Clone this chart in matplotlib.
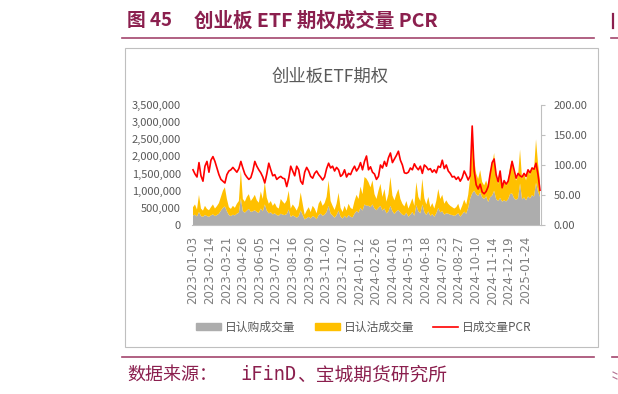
import numpy as np
import matplotlib
matplotlib.use('Agg')
from matplotlib import pyplot as plt
from matplotlib.patches import Patch, Rectangle
from matplotlib.lines import Line2D
from matplotlib.ticker import FuncFormatter

plt.rcParams['font.family'] = ['Noto Sans CJK SC', 'DejaVu Sans']
plt.rcParams['axes.unicode_minus'] = False

# one point every 3 trading days, 2023-01-03 .. 2025-02
call_vol = [280, 300, 250, 380, 260, 240, 290, 260, 240, 280, 310, 260, 290, 330, 420, 500, 540, 400, 290, 260, 300, 280,
            330, 360, 780, 400, 360, 420, 470, 380, 400, 430, 380, 350, 480, 400, 600, 420, 340, 370, 310, 340, 290, 270,
            330, 300, 290, 320, 450, 230, 280, 250, 210, 260, 430, 290, 160, 200, 240, 190, 260, 230, 170, 290, 330, 270,
            300, 380, 560, 330, 280, 210, 290, 420, 240, 190, 270, 200, 290, 240, 220, 330, 410, 360, 500, 420, 600, 560,
            560, 520, 600, 480, 430, 500, 560, 420, 480, 340, 400, 560, 400, 320, 400, 440, 360, 300, 280, 360, 240, 300,
            380, 270, 580, 400, 340, 600, 380, 290, 400, 260, 320, 240, 340, 500, 370, 400, 300, 340, 330, 300, 290, 265,
            295, 345, 243, 313, 390, 328, 503, 770, 925, 1000, 900, 845, 950, 805, 755, 835, 670, 810, 860, 1000, 760,
            700, 790, 680, 720, 685, 750, 905, 920, 780, 730, 780, 1210, 750, 805, 720, 835, 775, 870, 830, 1230, 980, 820]
put_vol = [240, 300, 200, 500, 220, 180, 270, 210, 190, 240, 290, 220, 260, 310, 400, 500, 560, 360, 230, 210, 260, 220,
           290, 340, 820, 360, 320, 400, 430, 320, 380, 450, 340, 300, 500, 360, 650, 380, 280, 330, 250, 300, 230, 210,
           430, 380, 330, 400, 550, 250, 320, 270, 210, 300, 520, 330, 140, 220, 280, 190, 300, 250, 170, 330, 390, 290,
           340, 440, 740, 370, 280, 230, 330, 520, 260, 190, 290, 220, 330, 260, 240, 370, 470, 400, 620, 480, 800, 790,
           690, 580, 700, 420, 330, 500, 640, 400, 570, 340, 500, 840, 460, 400, 500, 610, 400, 320, 260, 340, 240, 320,
           400, 290, 670, 420, 360, 750, 400, 310, 420, 260, 320, 240, 360, 550, 390, 480, 320, 380, 290, 260, 230, 215,
           225, 275, 180, 250, 350, 270, 380, 630, 1520, 900, 600, 500, 650, 450, 400, 465, 430, 690, 890, 1100, 640,
           500, 710, 420, 530, 465, 550, 800, 980, 720, 570, 670, 990, 600, 700, 580, 770, 680, 830, 770, 1270, 820, 480]
pcr = [92, 85, 80, 104, 82, 73, 98, 106, 88, 108, 114, 106, 95, 84, 76, 73, 70, 84, 90, 92, 96, 92, 88, 94, 106, 95,
       85, 80, 76, 79, 90, 106, 98, 92, 87, 80, 70, 85, 103, 92, 82, 84, 76, 79,
       81, 78, 77, 64, 78, 98, 90, 82, 98, 92, 73, 68, 88, 96, 90, 81, 78, 86, 90, 84, 80, 75, 80, 94, 103, 95,
       98, 90, 96, 92, 81, 84, 92, 80, 86, 84, 92, 98, 90, 95, 104, 92, 106, 115,
       92, 97, 88, 85, 76, 81, 100, 95, 106, 98, 112, 120, 104, 110, 116, 123, 108, 100, 87, 86, 88, 95, 92, 102,
       96, 92, 98, 86, 100, 97, 92, 94, 88, 92, 87, 98, 96, 108, 94, 100, 90, 86, 80, 81,
       76, 80, 73, 79, 90, 83, 75, 82, 165, 90, 67, 60, 68, 55, 52, 56, 64, 85, 104, 110, 84, 72, 90, 62, 74, 68,
       73, 88, 106, 92, 78, 86, 82, 80, 86, 81, 92, 87, 95, 93, 103, 84, 58]

tick_dates = ['2023-01-03', '2023-02-14', '2023-03-21', '2023-04-26', '2023-06-05', '2023-07-12', '2023-08-16',
              '2023-09-20', '2023-11-02', '2023-12-07', '2024-01-12', '2024-02-26', '2024-04-01', '2024-05-13',
              '2024-06-18', '2024-07-23', '2024-08-27', '2024-10-10', '2024-11-14', '2024-12-19', '2025-01-24']
legend_labels = ['日认购成交量', '日认沽成交量', '日成交量PCR']

call_vol = np.array(call_vol) * 1000
put_vol = np.array(put_vol) * 1000
x = np.arange(len(call_vol))

W, H = 618, 394
def fx(px):
    return px / W
def fy(py):
    return 1 - py / H

title_c = '#8B1F4E'
rule_c = '#A3456D'

fig = plt.figure(figsize=(W / 100, H / 100), dpi=100)

# page furniture
fig.text(fx(127), fy(21), '图 45', fontsize=13.5, weight='bold', color=title_c, va='center')
fig.text(fx(194), fy(21), '创业板 ETF 期权成交量 PCR', fontsize=14, weight='bold', color=title_c, va='center')
fig.add_artist(Line2D([fx(122), fx(594)], [fy(38), fy(38)], color=rule_c, lw=1.2))
fig.add_artist(Line2D([fx(611), fx(618)], [fy(38), fy(38)], color=rule_c, lw=1.2))
# edge of the neighbouring panel's heading
fig.add_artist(Line2D([fx(612.5), fx(612.5)], [fy(14), fy(28)], color=title_c, lw=1.6))
fig.add_artist(Rectangle((fx(125), fy(347)), fx(598) - fx(125), fy(48) - fy(347), fill=False,
                         edgecolor='#BFBFBF', lw=0.8, transform=fig.transFigure))
fig.add_artist(Line2D([fx(122), fx(594)], [fy(357), fy(357)], color=rule_c, lw=1.2))
fig.add_artist(Line2D([fx(612), fx(618)], [fy(357), fy(357)], color=rule_c, lw=1.2))
fig.add_artist(Line2D([fx(613), fx(617)], [fy(372), fy(374)], color='#B07090', lw=0.8))
fig.add_artist(Line2D([fx(613), fx(617)], [fy(377), fy(379)], color='#B07090', lw=0.8))
fig.text(fx(127), fy(375), '数据来源：', fontsize=13, color=title_c, va='center')
fig.text(fx(240), fy(375), 'iFinD', fontsize=13.5, color=title_c, va='center', family='DejaVu Sans Mono')
fig.text(fx(297), fy(375), '、宝城期货研究所', fontsize=13.5, color=title_c, va='center')

fig.text(fx(330), fy(77), '创业板ETF期权', fontsize=12.5, color='#595959', ha='center', va='center')

ax = fig.add_axes([fx(192), fy(225), fx(541) - fx(192), fy(105) - fy(225)])
ax.stackplot(x, call_vol, put_vol, colors=['#ADADAD', '#FFC000'], lw=0)
ax.axhline(0, color='#BFBFBF', lw=0.8, clip_on=False)
ax.set_xlim(-0.5, len(x) - 0.5)
ax.set_ylim(0, 3.5e6)
ax.set_yticks(np.arange(0, 3.5e6 + 1, 5e5))
ax.yaxis.set_major_formatter(FuncFormatter(lambda v, p: f'{v:,.0f}'))
ax.set_xticks(np.arange(len(tick_dates)) * 25 / 3)
ax.set_xticklabels(tick_dates, rotation=90, family='DejaVu Sans')
ax.tick_params(axis='x', length=0, pad=8, labelsize=8.5, labelcolor='#7F7F7F')
ax.tick_params(axis='y', length=0, pad=8, labelsize=8, labelcolor='#595959')
for s in ax.spines.values():
    s.set_visible(False)

ax2 = ax.twinx()
ax2.plot(x, pcr, color='#FF0000', lw=1.2)
ax2.set_ylim(0, 200)
ax2.set_yticks(np.arange(0, 201, 50))
ax2.yaxis.set_major_formatter(FuncFormatter(lambda v, p: f'{v:.2f}'))
ax2.tick_params(axis='y', length=3, color='#BFBFBF', pad=6, labelsize=8, labelcolor='#595959')
for k in ['top', 'left', 'bottom']:
    ax2.spines[k].set_visible(False)
ax2.spines['right'].set_color('#BFBFBF')
ax2.spines['right'].set_linewidth(0.8)

handles = [Patch(color='#ADADAD'), Patch(color='#FFC000'), Line2D([], [], color='#FF0000', lw=1.2)]
fig.legend(handles, legend_labels, loc='center', bbox_to_anchor=(fx(364), fy(327)), ncol=3, frameon=False,
           fontsize=8.5, handlelength=2.1, handleheight=0.6, handletextpad=0.35, columnspacing=1.6,
           labelcolor='#595959')

fig.savefig('out.png', dpi=100)
